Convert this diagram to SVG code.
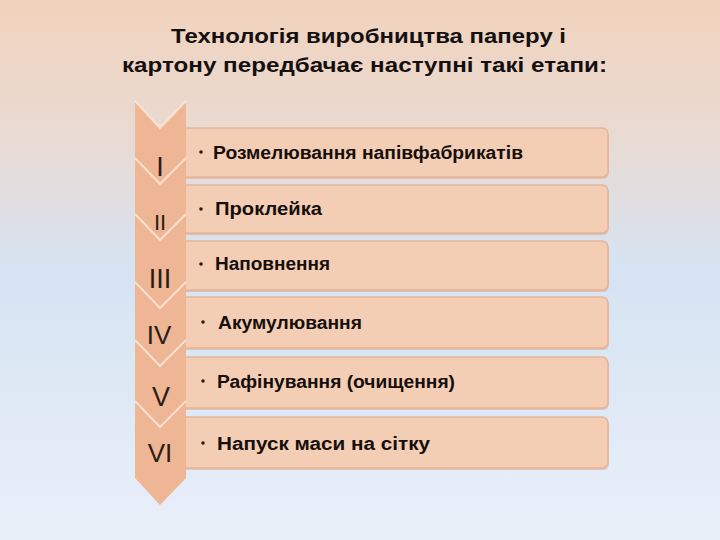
<svg xmlns="http://www.w3.org/2000/svg" width="720" height="540" viewBox="0 0 720 540">
<defs>
<linearGradient id="bg" x1="0" y1="0" x2="0" y2="1">
<stop offset="0" stop-color="#F1D3BD"/>
<stop offset="0.25" stop-color="#E9DAD2"/>
<stop offset="0.5" stop-color="#D6E3F2"/>
<stop offset="1" stop-color="#E9EFF9"/>
</linearGradient>
<style>
.title{font-family:"Liberation Sans",Arial,sans-serif;font-weight:bold;font-size:20px;fill:#151010}
.box{fill:#F3CEB5;stroke:#E6B497;stroke-width:1.5}
.shadow{fill:#D9A789;opacity:0.55}
.chev{fill:#EEB694}
.vline{fill:none;stroke:#FBE6D8;stroke-width:2;stroke-opacity:0.85}
.num{font-family:"Liberation Sans",Arial,sans-serif;font-weight:normal;font-size:27px;fill:#2b1d16;text-anchor:middle}
.txt{font-family:"Liberation Sans",Arial,sans-serif;font-weight:bold;font-size:18px;fill:#160f0c}
.dot{fill:#2b1d16}
</style>
</defs>
<rect width="720" height="540" fill="url(#bg)"/>
<g id="title">
<text class="title" x="171" y="43" textLength="395" lengthAdjust="spacingAndGlyphs">Технологія виробництва паперу і</text>
<text class="title" x="122" y="72" textLength="485" lengthAdjust="spacingAndGlyphs">картону передбачає наступні такі етапи:</text>
</g>
<g id="boxes">
<g id="box1"><rect class="shadow" x="180" y="130" width="429" height="49" rx="6"/><rect class="box" x="180" y="128" width="428" height="49" rx="6"/>
<circle class="dot" cx="201" cy="152" r="1.8"/><text class="txt" x="213" y="159" textLength="310" lengthAdjust="spacingAndGlyphs">Розмелювання напівфабрикатів</text></g>
<g id="box2"><rect class="shadow" x="180" y="187" width="429" height="48" rx="6"/><rect class="box" x="180" y="185" width="428" height="48" rx="6"/>
<circle class="dot" cx="201" cy="209" r="1.8"/><text class="txt" x="215" y="215" textLength="107" lengthAdjust="spacingAndGlyphs">Проклейка</text></g>
<g id="box3"><rect class="shadow" x="180" y="243" width="429" height="49" rx="6"/><rect class="box" x="180" y="241" width="428" height="49" rx="6"/>
<circle class="dot" cx="201" cy="264" r="1.8"/><text class="txt" x="215" y="270" textLength="115" lengthAdjust="spacingAndGlyphs">Наповнення</text></g>
<g id="box4"><rect class="shadow" x="180" y="299" width="429" height="51" rx="6"/><rect class="box" x="180" y="297" width="428" height="51" rx="6"/>
<circle class="dot" cx="203" cy="322" r="1.8"/><text class="txt" x="218" y="329" textLength="144" lengthAdjust="spacingAndGlyphs">Акумулювання</text></g>
<g id="box5"><rect class="shadow" x="180" y="359" width="429" height="51" rx="6"/><rect class="box" x="180" y="357" width="428" height="51" rx="6"/>
<circle class="dot" cx="203" cy="381" r="1.8"/><text class="txt" x="217" y="388" textLength="238" lengthAdjust="spacingAndGlyphs">Рафінування (очищення)</text></g>
<g id="box6"><rect class="shadow" x="180" y="419" width="429" height="51" rx="6"/><rect class="box" x="180" y="417" width="428" height="51" rx="6"/>
<circle class="dot" cx="203" cy="443" r="1.8"/><text class="txt" x="217" y="450" textLength="213" lengthAdjust="spacingAndGlyphs">Напуск маси на сітку</text></g>
</g>
<g id="chevrons">
<g id="chev1"><polygon class="chev" points="135,101 160,128 186,101 186,158 160,184 135,158"/><polyline class="vline" points="135,101 160,128 186,101"/><text class="num" x="160" y="176">I</text></g>
<g id="chev2"><polygon class="chev" points="135,158 160,184 186,158 186,214 160,240 135,214"/><polyline class="vline" points="135,158 160,184 186,158"/><text class="num" x="160" y="230" style="font-size:22px">II</text></g>
<g id="chev3"><polygon class="chev" points="135,214 160,240 186,214 186,282 160,308 135,282"/><polyline class="vline" points="135,214 160,240 186,214"/><text class="num" x="160" y="288">III</text></g>
<g id="chev4"><polygon class="chev" points="135,282 160,308 186,282 186,340 160,366 135,340"/><polyline class="vline" points="135,282 160,308 186,282"/><text class="num" x="159" y="344" style="font-size:26px">IV</text></g>
<g id="chev5"><polygon class="chev" points="135,340 160,366 186,340 186,401 160,427 135,401"/><polyline class="vline" points="135,340 160,366 186,340"/><text class="num" x="161" y="406">V</text></g>
<g id="chev6"><polygon class="chev" points="135,401 160,427 186,401 186,478 160,505 135,478"/><polyline class="vline" points="135,401 160,427 186,401"/><text class="num" x="160" y="462" style="font-size:26px">VI</text></g>
</g>
</svg>
